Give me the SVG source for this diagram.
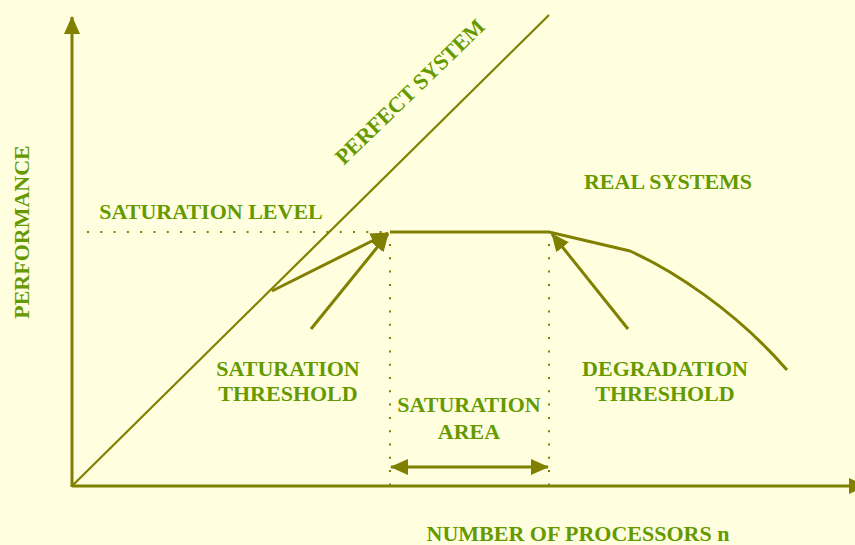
<svg xmlns="http://www.w3.org/2000/svg" width="855" height="545" viewBox="0 0 855 545">
  <style>
    .bg { fill: #FFFFE0; }
    .ln { fill: none; stroke: #808000; stroke-width: 3; }
    .thin { fill: none; stroke: #808000; stroke-width: 2.2; }
    .dot { fill: none; stroke: #808000; stroke-width: 2; stroke-dasharray: 2 11.3; }
    .lbl { font-family: "Liberation Serif", "Times New Roman", serif; font-weight: bold; font-size: 22px; fill: #669900; text-anchor: middle; }
  </style>
  <defs>
    <marker id="head" markerUnits="userSpaceOnUse" markerWidth="18" markerHeight="16" refX="17" refY="8" orient="auto-start-reverse" viewBox="0 0 18 16">
      <path d="M0,0 L18,8 L0,16 z" fill="#808000"/>
    </marker>
  </defs>

  <rect class="bg" x="0" y="0" width="855" height="545"/>

  <!-- axes -->
  <g id="axes">
    <line class="ln" x1="72" y1="487" x2="72" y2="17" marker-end="url(#head)"/>
    <line class="ln" x1="72" y1="486" x2="866" y2="486" marker-end="url(#head)"/>
  </g>

  <!-- guide lines -->
  <g id="guides">
    <line class="dot" x1="87" y1="232" x2="386" y2="232"/>
    <line class="dot" x1="390" y1="244" x2="390" y2="486"/>
    <line class="dot" x1="549" y1="244" x2="549" y2="486"/>
  </g>

  <!-- performance curves and pointers -->
  <g id="connectors">
    <line class="thin" x1="72" y1="486" x2="549" y2="15"/>
    <path class="ln" d="M272,291 L388,233" marker-end="url(#head)"/>
    <path class="ln" d="M390,232 L549,232 L630,251 C672,270 735,310 787,370"/>
    <line class="ln" x1="311" y1="329" x2="388" y2="234" marker-end="url(#head)"/>
    <line class="ln" x1="628" y1="329" x2="552" y2="234" marker-end="url(#head)"/>
    <line class="ln" x1="391" y1="467" x2="548" y2="467" marker-start="url(#head)" marker-end="url(#head)"/>
  </g>

  <!-- labels -->
  <g id="label-performance">
    <text class="lbl" transform="translate(29,232) rotate(-90)">PERFORMANCE</text>
  </g>
  <g id="label-perfect">
    <text class="lbl" transform="translate(415,97) rotate(-44)">PERFECT SYSTEM</text>
  </g>
  <g id="label-real">
    <text class="lbl" x="668" y="189">REAL SYSTEMS</text>
  </g>
  <g id="label-level">
    <text class="lbl" x="211" y="219">SATURATION LEVEL</text>
  </g>
  <g id="label-sat-threshold">
    <text class="lbl" x="288" y="376">SATURATION</text>
    <text class="lbl" x="288" y="401">THRESHOLD</text>
  </g>
  <g id="label-sat-area">
    <text class="lbl" x="469" y="412">SATURATION</text>
    <text class="lbl" x="469" y="439">AREA</text>
  </g>
  <g id="label-deg-threshold">
    <text class="lbl" x="665" y="376">DEGRADATION</text>
    <text class="lbl" x="665" y="401">THRESHOLD</text>
  </g>
  <g id="label-x">
    <text class="lbl" x="578" y="541">NUMBER OF PROCESSORS n</text>
  </g>
</svg>
